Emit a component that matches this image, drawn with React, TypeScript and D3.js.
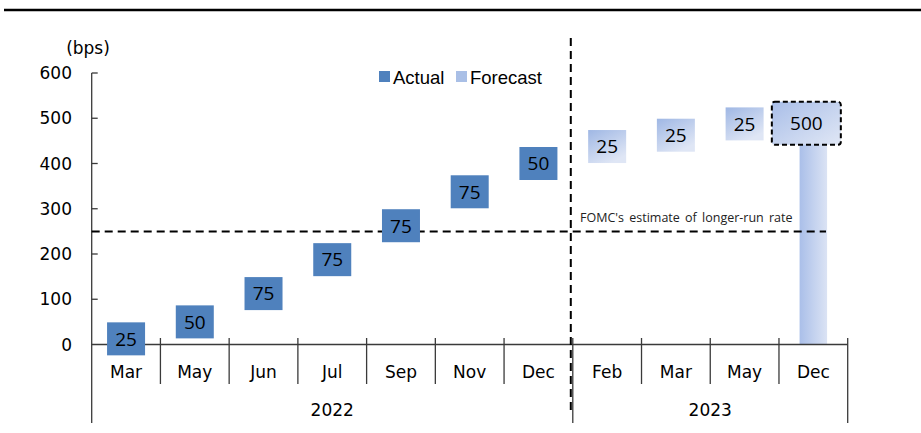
import React from "react";
import * as d3 from "d3";

const months = ["Mar", "May", "Jun", "Jul", "Sep", "Nov", "Dec", "Feb", "Mar", "May", "Dec"];
const years = ["2022", "2022", "2022", "2022", "2022", "2022", "2022", "2023", "2023", "2023", "2023"];
const hikes = [25, 50, 75, 75, 75, 75, 50, 25, 25, 25];
const kinds = ["actual", "actual", "actual", "actual", "actual", "actual", "actual", "forecast", "forecast", "forecast"];
const terminalRate = 500;
const longerRun = 250;
const yTicks = [0, 100, 200, 300, 400, 500, 600];
const legendItems = ["Actual", "Forecast"];

const W = 921;
const H = 433;
const X0 = 91.7;
const X1 = 847.7;
const Y0 = 344.5;
const Y600 = 73;

export default function App() {
  const x = d3.scaleBand<number>().domain(months.map((_, i) => i)).range([X0, X1]).padding(0);
  const y = d3.scaleLinear().domain([0, 600]).range([Y0, Y600]);
  const bw = x.bandwidth();

  let cum = 0;
  const boxes = hikes.map((h, i) => {
    const lo = cum;
    cum += h;
    return { i, h, mid: (lo + cum) / 2, kind: kinds[i] };
  });

  const lastIdx = months.length - 1;
  const yearGroups = d3.groups(months.map((m, i) => ({ m, i, yr: years[i] })), (d) => d.yr);
  const yearSplit = x(7)!;

  const boxW = 38;
  const boxH = 33;
  const numFont = "'Open Sans', 'Noto Sans', sans-serif";
  const axisFont = "'DejaVu Sans', Verdana, sans-serif";

  return (
    <svg width={W} height={H} style={{ position: "absolute", left: 0, top: 0, background: "#fff" }}>
      <style>{`body{margin:0}`}</style>
      <defs>
        <linearGradient id="fcBox" x1="0" y1="0" x2="0.6" y2="1">
          <stop offset="0" stopColor="#9fb7e4" />
          <stop offset="1" stopColor="#dfe6f5" />
        </linearGradient>
        <linearGradient id="fcBar" x1="0" y1="0" x2="1" y2="0">
          <stop offset="0" stopColor="#aabfe9" />
          <stop offset="1" stopColor="#dbe3f4" />
        </linearGradient>
        <linearGradient id="fcBig" x1="0" y1="0" x2="1" y2="1">
          <stop offset="0" stopColor="#a9bee8" />
          <stop offset="1" stopColor="#e0e7f5" />
        </linearGradient>
      </defs>

      {/* top rule */}
      <line x1={4} x2={W} y1={10} y2={10} stroke="#000" strokeWidth={2.5} />

      {/* y axis */}
      <line x1={X0} x2={X0} y1={Y600} y2={423} stroke="#3a3a3a" strokeWidth={1.3} />
      {yTicks.map((t) => (
        <g key={t}>
          {t > 0 && <line x1={X0} x2={X0 + 6} y1={y(t)} y2={y(t)} stroke="#3a3a3a" strokeWidth={1.3} />}
          <text x={72} y={y(t)} dy="0.36em" textAnchor="end" fontFamily={axisFont} fontSize={17} fill="#000">
            {t}
          </text>
        </g>
      ))}
      <text x={88} y={48} dy="0.36em" textAnchor="middle" fontFamily={axisFont} fontSize={17} fill="#000">
        (bps)
      </text>

      {/* terminal bar (Dec 2023) */}
      <rect
        x={x(lastIdx)! + bw / 2 - bw * 0.2}
        width={bw * 0.4}
        y={y(terminalRate)}
        height={y(0) - y(terminalRate)}
        fill="url(#fcBar)"
      />

      {/* zero line */}
      <line x1={X0} x2={X1} y1={Y0} y2={Y0} stroke="#3a3a3a" strokeWidth={1.3} />

      {/* category ticks */}
      {d3.range(1, months.length + 1).map((k) => {
        const xx = k === months.length ? X1 : x(k)!;
        const long = k === months.length || k === 7;
        return (
          <line key={k} x1={xx} x2={xx} y1={338} y2={long ? 423 : 384} stroke="#3a3a3a" strokeWidth={1.3} />
        );
      })}

      {/* month labels */}
      {months.map((m, i) => (
        <text key={i} x={x(i)! + bw / 2} y={372} dy="0.36em" textAnchor="middle" fontFamily={axisFont} fontSize={17} fill="#000">
          {m}
        </text>
      ))}
      {/* year labels */}
      {yearGroups.map(([yr, items]) => {
        const a = x(items[0].i)!;
        const b = x(items[items.length - 1].i)! + bw;
        return (
          <text key={yr} x={(a + b) / 2} y={410} dy="0.36em" textAnchor="middle" fontFamily={axisFont} fontSize={17} fill="#000">
            {yr}
          </text>
        );
      })}

      {/* longer-run dashed line */}
      <line x1={X0} x2={826} y1={y(longerRun)} y2={y(longerRun)} stroke="#000" strokeWidth={2} strokeDasharray="8,5" />
      <text x={580} y={y(longerRun) - 9} fontFamily={numFont} fontSize={12.5} fill="#222" wordSpacing="2">
        FOMC's estimate of longer-run rate
      </text>

      {/* hike boxes */}
      {boxes.map((b) => {
        const cx = x(b.i)! + bw / 2;
        const cy = y(b.mid);
        return (
          <g key={b.i}>
            <rect
              x={cx - boxW / 2}
              y={cy - boxH / 2}
              width={boxW}
              height={boxH}
              fill={b.kind === "actual" ? "#4f81bd" : "url(#fcBox)"}
            />
            <text x={cx} y={cy} dy="0.36em" textAnchor="middle" fontFamily={numFont} fontSize={19} fill="#000">
              {b.h}
            </text>
          </g>
        );
      })}

      {/* terminal label box */}
      {(() => {
        const cx = x(lastIdx)! + bw / 2 - 7;
        const cy = y(terminalRate) + 5;
        return (
          <g>
            <rect
              x={cx - 34.5}
              y={cy - 21.5}
              width={69}
              height={43}
              rx={3}
              fill="url(#fcBig)"
              stroke="#000"
              strokeWidth={2}
              strokeDasharray="5,3"
            />
            <text x={cx} y={cy} dy="0.36em" textAnchor="middle" fontFamily={numFont} fontSize={19} fill="#000">
              {terminalRate}
            </text>
          </g>
        );
      })()}

      {/* 2022/2023 dashed divider */}
      <line x1={yearSplit - 2} x2={yearSplit - 2} y1={38} y2={410} stroke="#000" strokeWidth={2} strokeDasharray="8,5" />

      {/* legend */}
      {legendItems.map((l, i) => {
        const lx = i === 0 ? 379 : 456;
        return (
          <g key={l}>
            <rect x={lx} y={71} width={11} height={11} fill={i === 0 ? "#4f81bd" : "#a9bfe6"} />
            <text x={lx + 14} y={77} dy="0.36em" fontFamily="'Liberation Sans', Arial, sans-serif" fontSize={18.5} fill="#000">
              {l}
            </text>
          </g>
        );
      })}
    </svg>
  );
}
